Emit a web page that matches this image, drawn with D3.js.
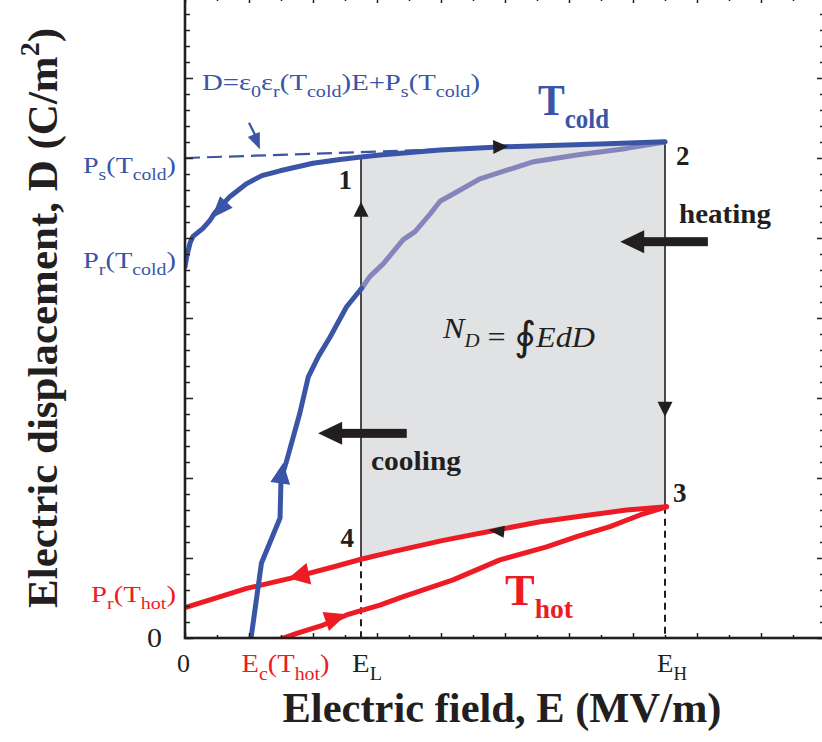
<!DOCTYPE html>
<html>
<head>
<meta charset="utf-8">
<script src="https://cdn.jsdelivr.net/npm/d3@7"></script>
<style>
  html, body { margin: 0; padding: 0; background: #fff; }
  svg { display: block; }
  text { font-family: "Liberation Serif", "Times New Roman", serif; }
</style>
</head>
<body>
<div id="container"></div>
<script>
// Ericsson cycle on D-E loops (T_cold / T_hot), values in arbitrary units

//_____ DATA _____
// T_cold loop: rising branch up to E_L, charging branch E_L -> E_H, return branch E_H -> 0
const coldRiseE = [2.05, 2.39, 2.97, 3.0, 3.18, 3.59, 3.85, 4.17, 4.53, 5.05, 5.52];
const coldRiseD = [-0.2, 4.69, 7.5, 9.9, 11.1, 14.06, 16.3, 17.6, 18.8, 20.7, 21.86];
const coldChargeE = [5.5, 5.78, 6.2, 6.82, 7.19, 7.66, 7.97, 8.6, 9.22, 9.84, 10.9, 12.24, 13.8, 15.0];
const coldChargeD = [21.8, 22.6, 23.4, 24.9, 25.4, 26.5, 27.3, 28.0, 28.7, 29.1, 29.77, 30.19, 30.6, 31.0];
const coldReturnE = [15.0, 12.97, 9.94, 7.97, 6.09, 5.5, 4.84, 4.0, 2.97, 2.4, 1.93, 1.41, 0.94, 0.78, 0.56, 0.25, 0.16, 0.06, 0];
const coldReturnD = [31.02, 30.88, 30.7, 30.5, 30.19, 30.06, 29.9, 29.67, 29.2, 28.9, 28.4, 27.6, 26.6, 26.1, 25.6, 25.1, 24.7, 23.9, 23.2];
// T_hot loop
const hotReturnE = [15.05, 13.8, 12.24, 11.1, 9.74, 8.07, 6.5, 5.5, 4.74, 3.28, 1.93, 0];
const hotReturnD = [8.2, 8.0, 7.58, 7.27, 6.75, 6.1, 5.4, 4.92, 4.5, 3.73, 3.1, 1.9];
const hotRiseE = [2.8, 3.49, 4.32, 5.05, 5.5, 6.09, 6.82, 8.38, 9.84, 11.3, 12.24, 13.28, 14.22, 15.05];
const hotRiseD = [-0.2, 0.29, 0.81, 1.44, 1.71, 2.06, 2.58, 3.63, 4.88, 5.7, 6.33, 6.96, 7.69, 8.2];
// linear fit D = e0 er E + Ps
const fitE = [0, 15.0];
const fitD = [30.0, 31.0];
// cycle corners 1..4
const cycleE = [5.5, 15.0, 15.0, 5.5];
const cycleD = [30.06, 31.0, 8.2, 4.92];
// special values on the axes
const xTickValues = [0, 2.8, 5.5, 15.0];
const xTickLabels = [[['0', '']], [['E', ''], ['c', 'sub'], ['(T', ''], ['hot', 'sub'], [')', '']], [['E', ''], ['L', 'sub']], [['E', ''], ['H', 'sub']]];
const yTickValues = [0, 1.9, 23.2, 30.0];
const yTickLabels = [[['0', '']], [['P', ''], ['r', 'sub'], ['(T', ''], ['hot', 'sub'], [')', '']], [['P', ''], ['r', 'sub'], ['(T', ''], ['cold', 'sub'], [')', '']], [['P', ''], ['s', 'sub'], ['(T', ''], ['cold', 'sub'], [')', '']]];

//_____ LAYOUT / STYLE _____
const W = 822, H = 742;
const plot = { left: 185, right: 825, top: -2, bottom: 638 };
const blue = '#3a55a6';
const purple = '#8385bb';
const red = '#ed1c24';
const black = '#231f20';
const grey = '#e1e2e4';

const x = d3.scaleLinear().domain([0, 20]).range([plot.left, plot.right]);
const y = d3.scaleLinear().domain([0, 40]).range([plot.bottom, plot.top]);

const svg = d3.select('#container').append('svg')
  .attr('width', W).attr('height', H);

svg.append('clipPath').attr('id', 'clip')
  .append('rect')
  .attr('x', plot.left).attr('y', plot.top)
  .attr('width', plot.right - plot.left).attr('height', plot.bottom - plot.top);

const zip = (es, ds) => es.map((e, i) => [e, ds[i]]);
const line = d3.line().x(d => x(d[0])).y(d => y(d[1]));

const g = svg.append('g').attr('clip-path', 'url(#clip)');

//>>> grey area enclosed by the cycle
const EL = cycleE[0], EH = cycleE[1];
const topEdge = zip(coldReturnE, coldReturnD).filter(p => p[0] > EL && p[0] < EH).reverse();
const bottomEdge = zip(hotReturnE, hotReturnD).filter(p => p[0] > EL && p[0] < EH);
const area = [[EL, cycleD[3]], [EL, cycleD[0]], ...topEdge, [EH, cycleD[1]], [EH, cycleD[2]], ...bottomEdge];
g.append('path').attr('d', line(area) + 'Z').attr('fill', grey);

//>>> dashed fit line
g.append('path').attr('d', line(zip(fitE, fitD)))
  .attr('fill', 'none').attr('stroke', blue).attr('stroke-width', 2.2)
  .attr('stroke-dasharray', '15 7');

//>>> vertical lines at E_L and E_H
[[0, 3], [1, 2]].forEach(([a, b]) => {
  g.append('line')
    .attr('x1', x(cycleE[a])).attr('x2', x(cycleE[b]))
    .attr('y1', y(cycleD[a])).attr('y2', y(cycleD[b]))
    .attr('stroke', black).attr('stroke-width', 1.6);
  g.append('line')
    .attr('x1', x(cycleE[b])).attr('x2', x(cycleE[b]))
    .attr('y1', y(cycleD[b])).attr('y2', y(0))
    .attr('stroke', black).attr('stroke-width', 2).attr('stroke-dasharray', '7 5');
});

//>>> loops
const curve = (pts, color, w) => g.append('path').attr('d', line(pts))
  .attr('fill', 'none').attr('stroke', color).attr('stroke-width', w)
  .attr('stroke-linejoin', 'round').attr('stroke-linecap', 'round');

curve(zip(hotRiseE, hotRiseD), red, 5);
curve(zip(hotReturnE, hotReturnD), red, 5);
curve(zip(coldChargeE, coldChargeD), purple, 5);
curve(zip(coldRiseE, coldRiseD), blue, 5);
curve(zip(coldReturnE, coldReturnD), blue, 5);

//>>> arrow heads: tip and a point behind it, in data units
function head(tip, back, len, wid, color) {
  const tx = x(tip[0]), ty = y(tip[1]);
  const a = Math.atan2(ty - y(back[1]), tx - x(back[0]));
  const bx = tx - len * Math.cos(a), by = ty - len * Math.sin(a);
  const nx = -Math.sin(a) * wid / 2, ny = Math.cos(a) * wid / 2;
  svg.append('path')
    .attr('d', `M${tx},${ty}L${bx + nx},${by + ny}L${bx - nx},${by - ny}Z`)
    .attr('fill', color);
}
head([0.83, 26.23], [1.3, 27.27], 22, 17, blue);
head([10.1, 30.72], [9.6, 30.69], 15, 14, black);
head([3.07, 10.96], [2.98, 9.72], 21, 20, blue);
head([3.23, 3.73], [3.85, 4.0], 21, 22, red);
head([5.05, 1.48], [4.375, 1.02], 22, 20, red);
head([9.48, 6.75], [10.0, 6.64], 16, 12, black);
head([5.5, 27.27], [5.5, 26.31], 15, 15, black);
head([15.0, 13.83], [15.0, 14.77], 15, 15, black);

//>>> big heating / cooling arrows
function bigArrow(tipE, tailE, d) {
  const ty = y(d), tx = x(tipE), ex = x(tailE);
  svg.append('rect').attr('x', tx + 20).attr('y', ty - 4.5)
    .attr('width', ex - tx - 20).attr('height', 9).attr('fill', black);
  svg.append('path')
    .attr('d', `M${tx},${ty}L${tx + 24},${ty - 11.5}L${tx + 24},${ty + 11.5}Z`)
    .attr('fill', black);
}
bigArrow(13.6, 16.34, 24.77);
bigArrow(4.16, 6.93, 12.79);

//>>> annotation arrow to the fit line
svg.append('line')
  .attr('x1', x(2.0)).attr('y1', y(32.2))
  .attr('x2', x(2.25)).attr('y2', y(31.2))
  .attr('stroke', blue).attr('stroke-width', 2.2);
head([2.34, 30.55], [2.0, 32.2], 16, 13, blue);

//_____ AXES _____
const minorX = d3.range(0, 21, 1).filter(v => v % 2);
const majorX = d3.range(0, 21, 2);
const minorY = d3.range(0, 41, 1).filter(v => v % 5);
const majorY = d3.range(0, 41, 5);

function axis(gen, vals, size, transform) {
  const a = svg.append('g').attr('transform', transform)
    .call(gen.tickValues(vals).tickSize(-size).tickSizeOuter(0).tickFormat(''));
  a.select('.domain').remove();
  a.selectAll('line').attr('stroke', black).attr('stroke-width', 1.5);
}
axis(d3.axisBottom(x), minorX, 3, `translate(0,${plot.bottom})`);
axis(d3.axisBottom(x), majorX, 5, `translate(0,${plot.bottom})`);
axis(d3.axisTop(x), minorX, 3, `translate(0,${plot.top})`);
axis(d3.axisTop(x), majorX, 5, `translate(0,${plot.top})`);
axis(d3.axisLeft(y), minorY, 5, `translate(${plot.left},0)`);
axis(d3.axisLeft(y), majorY, 8, `translate(${plot.left},0)`);
axis(d3.axisRight(y), minorY, 5, `translate(${plot.right},0)`);
axis(d3.axisRight(y), majorY, 8, `translate(${plot.right},0)`);

svg.append('rect')
  .attr('x', plot.left).attr('y', plot.top)
  .attr('width', plot.right - plot.left).attr('height', plot.bottom - plot.top)
  .attr('fill', 'none').attr('stroke', black).attr('stroke-width', 2.6);

//_____ TEXT _____
function rich(parent, px, py, parts, size, sub = 0.7) {
  const t = parent.append('text').attr('x', px).attr('y', py).style('font-size', size + 'px');
  let shift = 0;
  parts.forEach(([s, m]) => {
    const target = m === 'sub' ? size * 0.3 : m === 'sup' ? -size * 0.42 : 0;
    t.append('tspan').attr('dy', target - shift)
      .style('font-size', m ? (size * sub) + 'px' : null).text(s);
    shift = target;
  });
  return t;
}
// stretch a text to the width it has in the figure
const fit = (t, w) => t.attr('textLength', w).attr('lengthAdjust', 'spacingAndGlyphs');

//>>> x tick labels
const xLabelDx = [-1.5, 11, 6, 7];
const xLabelW = [13, 88, 30, 30];
xTickLabels.forEach((parts, i) => {
  fit(rich(svg, x(xTickValues[i]) + xLabelDx[i], y(0) + 34, parts, 26)
    .attr('text-anchor', 'middle').attr('fill', i === 1 ? red : black), xLabelW[i]);
});

//>>> y tick labels
const yLabelDy = [9, -6, 1, 15];
const yLabelW = [15, 85, 93, 93];
yTickLabels.forEach((parts, i) => {
  fit(rich(svg, i === 0 ? 162 : 176, y(yTickValues[i]) + yLabelDy[i], parts, i === 0 ? 27 : 24)
    .attr('text-anchor', 'end').attr('fill', i === 0 ? black : i === 1 ? red : blue), yLabelW[i]);
});

//>>> fit equation
fit(rich(svg, 202, 90, [['D=ε', ''], ['0', 'sub'], ['ε', ''], ['r', 'sub'], ['(T', ''], ['cold', 'sub'],
  [')E+P', ''], ['s', 'sub'], ['(T', ''], ['cold', 'sub'], [')', '']], 23)
  .attr('fill', blue), 278);

//>>> curve labels
fit(rich(svg, 538, 115, [['T', ''], ['cold', 'sub']], 44, 0.62)
  .attr('fill', blue).style('font-weight', 'bold'), 71);
fit(rich(svg, 505, 605, [['T', ''], ['hot', 'sub']], 44, 0.62)
  .attr('fill', red).style('font-weight', 'bold'), 68);

//>>> corner numbers
const numDx = [-9, 11, 8, -7];
const numDy = [32, 23, -5, -12];
cycleE.forEach((e, i) => {
  svg.append('text')
    .attr('x', x(e) + numDx[i]).attr('y', y(cycleD[i]) + numDy[i])
    .attr('text-anchor', i === 0 || i === 3 ? 'end' : 'start')
    .style('font-size', '27px').style('font-weight', 'bold').attr('fill', black)
    .text(i + 1);
});

fit(svg.append('text').attr('x', 679).attr('y', 223)
  .style('font-size', '28px').style('font-weight', 'bold').attr('fill', black).text('heating'), 92);
fit(svg.append('text').attr('x', 371).attr('y', 470)
  .style('font-size', '28px').style('font-weight', 'bold').attr('fill', black).text('cooling'), 90);

//>>> integral
const nd = rich(svg, 443, 338, [['N', ''], ['D', 'sub'], ['', '']], 30, 0.65)
  .attr('fill', black).style('font-style', 'italic');
nd.append('tspan').style('font-style', 'normal').text(' = ');
nd.append('tspan').style('font-style', 'normal').style('font-size', '40px')
  .attr('dy', 3).text('∮');
nd.append('tspan').attr('dy', -3).text('EdD');
fit(nd, 152);

//>>> axis titles
fit(svg.append('text')
  .attr('x', 502).attr('y', 722)
  .attr('text-anchor', 'middle')
  .style('font-size', '42px').style('font-weight', 'bold').attr('fill', black)
  .text('Electric field, E (MV/m)'), 439);

fit(rich(svg.append('g').attr('transform', 'translate(57,318) rotate(-90)'), 0, 0,
  [['Electric displacement, D (C/m', ''], ['2', 'sup'], [')', '']], 42, 0.65)
  .attr('text-anchor', 'middle').style('font-weight', 'bold').attr('fill', black), 580);
</script>
</body>
</html>
